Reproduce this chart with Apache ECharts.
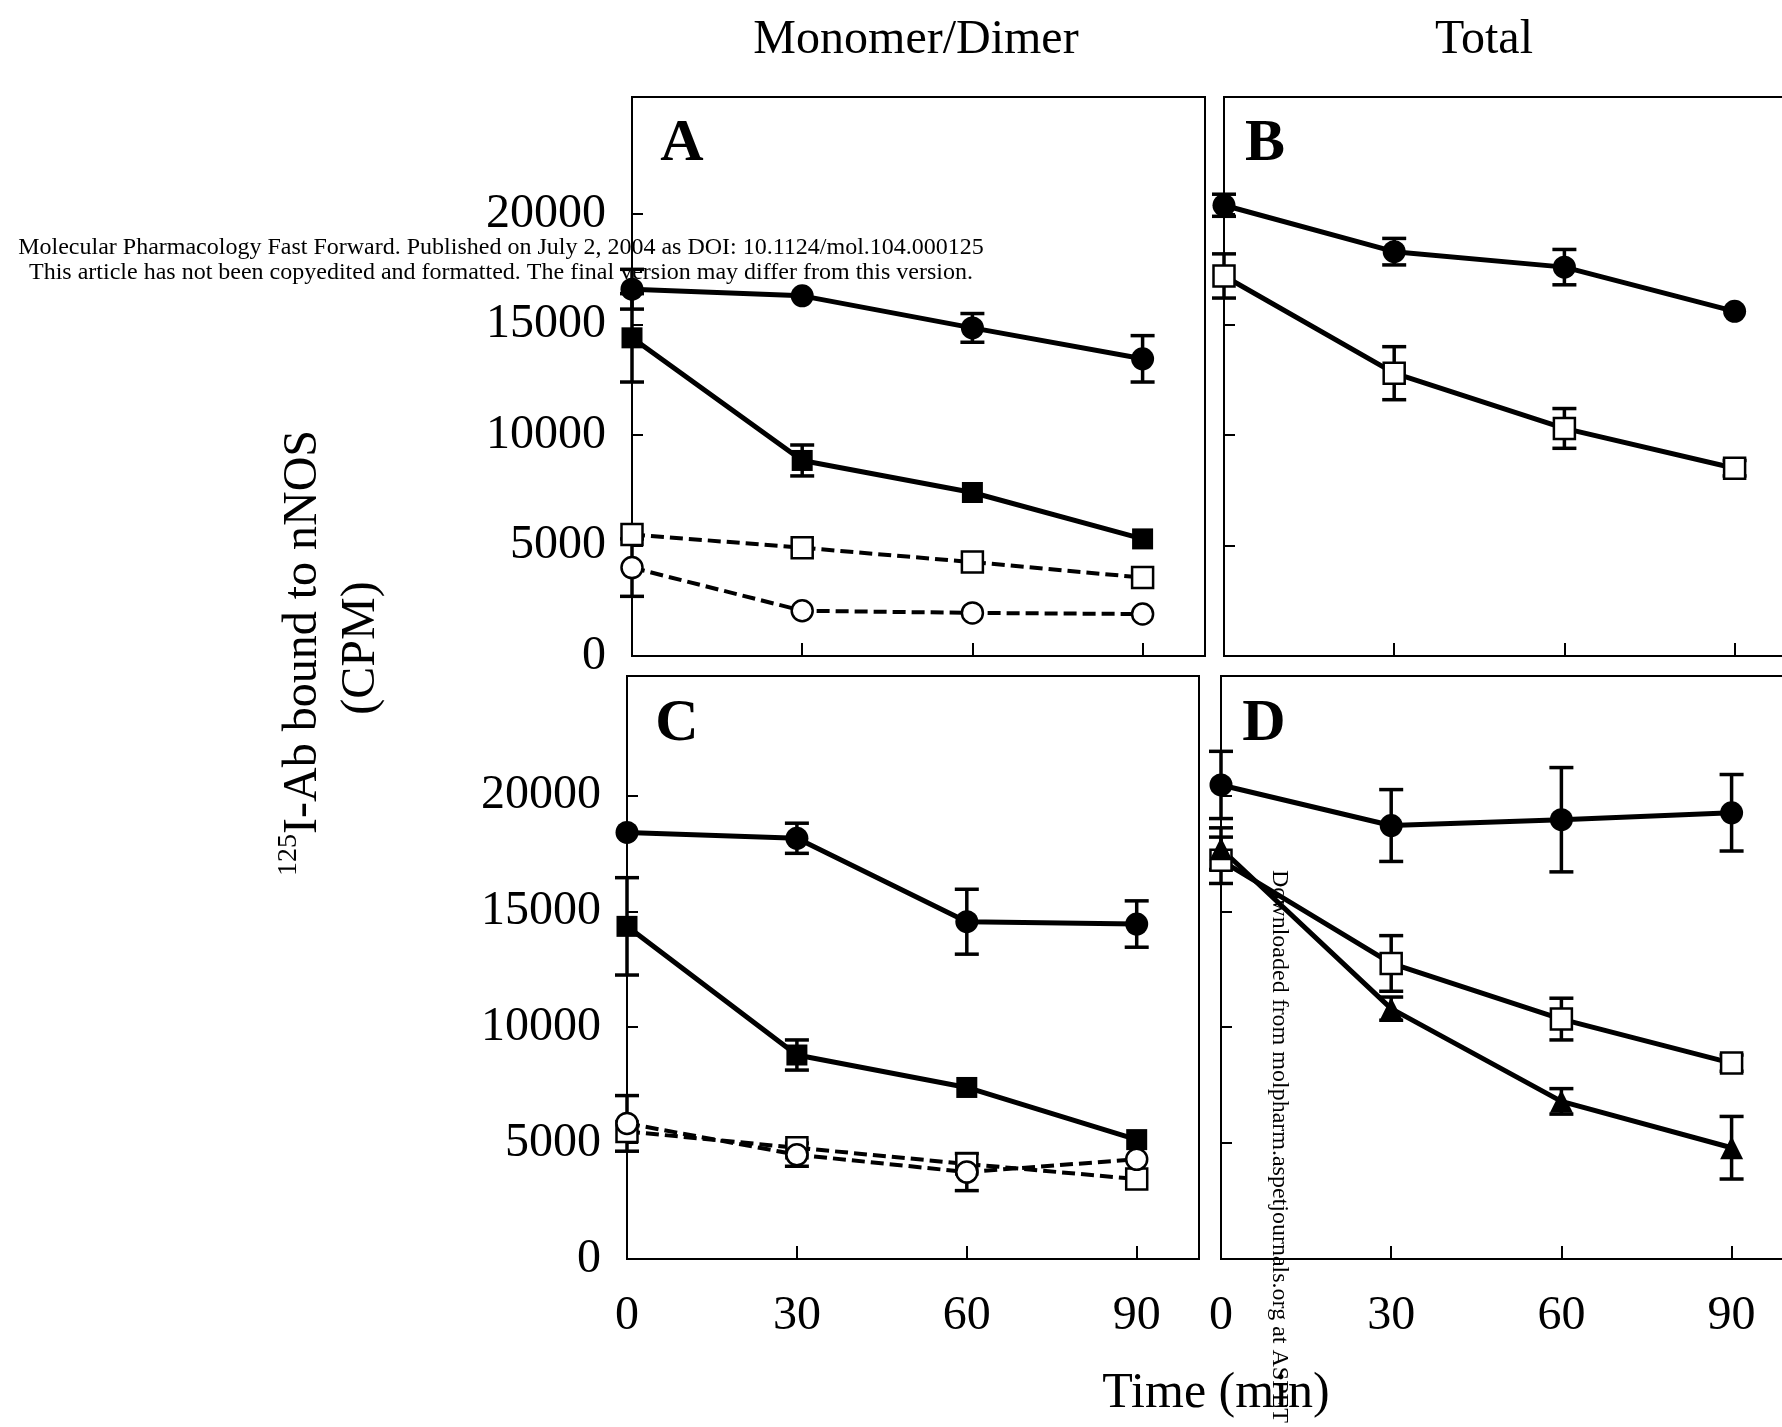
<!DOCTYPE html>
<html>
<head>
<meta charset="utf-8">
<title>125I-Ab bound to nNOS</title>
<script src="https://cdn.jsdelivr.net/npm/echarts@6/dist/echarts.min.js"></script>
<style>
html, body { margin: 0; padding: 0; background: #fff; overflow: hidden; }
/* wider than the window: the right edge of panels B and D runs off the page */
#chart { width: 1800px; height: 1427px; }
</style>
</head>
<body>
<div id="chart"></div>
<script>
// time points (min)
const times = [0, 30, 60, 90];
const xLabels = [0, 30, 60, 90];
const yLabels = [0, 5000, 10000, 15000, 20000];

// A - monomer/dimer
const aCircle = [16600, 16300, 14850, 13450];
const aCircleErr = [900, 0, 650, 1050];
const aSquare = [14400, 8850, 7400, 5300];
const aSquareErr = [2000, 700, 0, 0];
const aOpenSquare = [5500, 4900, 4250, 3550];
const aOpenSquareErr = [0, 0, 0, 0];
const aOpenCircle = [4000, 2050, 1950, 1900];
const aOpenCircleErr = [1300, 0, 0, 0];

// B - total
const bCircle = [20400, 18300, 17600, 15600];
const bCircleErr = [500, 600, 800, 0];
const bOpenSquare = [17200, 12800, 10300, 8500];
const bOpenSquareErr = [1000, 1200, 900, 350];

// C - monomer/dimer
const cCircle = [18400, 18150, 14550, 14450];
const cCircleErr = [0, 650, 1400, 1000];
const cSquare = [14350, 8800, 7400, 5150];
const cSquareErr = [2100, 650, 0, 0];
const cOpenSquare = [5500, 4800, 4100, 3450];
const cOpenSquareErr = [0, 0, 0, 0];
const cOpenCircle = [5850, 4500, 3750, 4300];
const cOpenCircleErr = [1200, 500, 800, 0];

// D - total
const dCircle = [20450, 18700, 18950, 19250];
const dCircleErr = [1450, 1550, 2250, 1650];
const dOpenSquare = [17200, 12750, 10350, 8450];
const dOpenSquareErr = [1000, 1200, 900, 350];
const dTriangle = [17700, 10800, 6800, 4800];
const dTriangleErr = [900, 500, 550, 1350];

const FONT = '"Liberation Serif", "Times New Roman", serif';

const grids = [
  { left: 632, top: 97, width: 573, height: 559 },   // A
  { left: 1224, top: 97, width: 573, height: 559 },  // B
  { left: 627, top: 676, width: 572, height: 583 },  // C
  { left: 1221, top: 676, width: 573, height: 583 }  // D
];
const yMax = [25300, 25300, 25150, 25150];

function lineSeries(g, values, symbol, filled, dashed) {
  let size = symbol === 'circle' ? 23 : symbol === 'triangle' ? 23 : 21;
  if (!filled) size = 21;
  return {
    type: 'line',
    xAxisIndex: g,
    yAxisIndex: g,
    data: times.map((t, i) => [t, values[i]]),
    symbol: symbol,
    symbolSize: size,
    showAllSymbol: true,
    clip: false,
    z: 3,
    itemStyle: {
      color: filled ? '#000' : '#fff',
      borderColor: '#000',
      borderWidth: filled ? 0 : 2.5
    },
    lineStyle: {
      color: '#000',
      width: dashed ? 4 : 5,
      type: dashed ? [13, 6] : 'solid'
    }
  };
}

function errSeries(g, values, errs) {
  const data = [];
  times.forEach((t, i) => {
    if (errs[i] > 0) data.push([t, values[i] - errs[i], values[i] + errs[i]]);
  });
  return {
    type: 'custom',
    xAxisIndex: g,
    yAxisIndex: g,
    z: 2,
    clip: false,
    encode: { x: 0, y: [1, 2] },
    data: data,
    renderItem: function (params, api) {
      const lo = api.coord([api.value(0), api.value(1)]);
      const hi = api.coord([api.value(0), api.value(2)]);
      const hw = 12;
      const st = { stroke: '#000', lineWidth: 3.5 };
      return {
        type: 'group',
        children: [
          { type: 'line', shape: { x1: lo[0], y1: lo[1], x2: hi[0], y2: hi[1] }, style: st },
          { type: 'line', shape: { x1: lo[0] - hw, y1: lo[1], x2: lo[0] + hw, y2: lo[1] }, style: st },
          { type: 'line', shape: { x1: hi[0] - hw, y1: hi[1], x2: hi[0] + hw, y2: hi[1] }, style: st }
        ]
      };
    }
  };
}

function panel(g, values, errs, symbol, filled, dashed) {
  return [errSeries(g, values, errs), lineSeries(g, values, symbol, filled, dashed)];
}

const series = [].concat(
  panel(0, aCircle, aCircleErr, 'circle', true, false),
  panel(0, aSquare, aSquareErr, 'rect', true, false),
  panel(0, aOpenSquare, aOpenSquareErr, 'rect', false, true),
  panel(0, aOpenCircle, aOpenCircleErr, 'circle', false, true),
  panel(1, bCircle, bCircleErr, 'circle', true, false),
  panel(1, bOpenSquare, bOpenSquareErr, 'rect', false, false),
  panel(2, cCircle, cCircleErr, 'circle', true, false),
  panel(2, cSquare, cSquareErr, 'rect', true, false),
  panel(2, cOpenSquare, cOpenSquareErr, 'rect', false, true),
  panel(2, cOpenCircle, cOpenCircleErr, 'circle', false, true),
  panel(3, dCircle, dCircleErr, 'circle', true, false),
  panel(3, dOpenSquare, dOpenSquareErr, 'rect', false, false),
  panel(3, dTriangle, dTriangleErr, 'triangle', true, false)
);

const xAxes = grids.map((g, i) => ({
  type: 'value',
  gridIndex: i,
  min: 0,
  max: 101,
  axisLine: { show: false },
  splitLine: { show: false },
  axisTick: { inside: true, length: 13, lineStyle: { color: '#000', width: 2 }, customValues: [30, 60, 90] },
  axisLabel: {
    show: i >= 2,
    customValues: xLabels,
    formatter: v => String(v),
    fontFamily: FONT,
    fontSize: 48,
    color: '#000',
    margin: 33
  }
}));

const yAxes = grids.map((g, i) => ({
  type: 'value',
  gridIndex: i,
  min: 0,
  max: yMax[i],
  axisLine: { show: false },
  splitLine: { show: false },
  axisTick: { inside: true, length: 11, lineStyle: { color: '#000', width: 2 }, customValues: [5000, 10000, 15000, 20000] },
  axisLabel: {
    show: i % 2 === 0,
    customValues: yLabels,
    formatter: v => String(v),
    fontFamily: FONT,
    fontSize: 48,
    color: '#000',
    margin: 26
  }
}));

function txt(x, y, text, size, extra) {
  return {
    type: 'text',
    x: x,
    y: y,
    silent: true,
    style: Object.assign({
      text: text,
      font: size + 'px ' + FONT,
      fill: '#000',
      textAlign: 'center',
      textVerticalAlign: 'middle'
    }, extra || {})
  };
}

const chart = echarts.init(document.getElementById('chart'));
chart.setOption({
  animation: false,
  backgroundColor: '#fff',
  grid: grids.map(g => Object.assign({ show: true, borderColor: '#000', borderWidth: 2, backgroundColor: 'transparent' }, g)),
  xAxis: xAxes,
  yAxis: yAxes,
  series: series,
  graphic: [
    txt(916, 40, 'Monomer/Dimer', 48),
    txt(1484, 40, 'Total', 48),
    txt(1216, 1394, 'Time (min)', 50),
    txt(682, 144, 'A', 60, { font: 'bold 60px ' + FONT }),
    txt(1265, 144, 'B', 60, { font: 'bold 60px ' + FONT }),
    txt(677, 724, 'C', 60, { font: 'bold 60px ' + FONT }),
    txt(1264, 724, 'D', 60, { font: 'bold 60px ' + FONT }),
    {
      type: 'text',
      x: 303,
      y: 653,
      rotation: Math.PI / 2,
      silent: true,
      style: {
        text: '{sup|125}{base|I-Ab bound to nNOS}',
        fill: '#000',
        textAlign: 'center',
        textVerticalAlign: 'middle',
        rich: {
          sup: { fontFamily: FONT, fontSize: 28, verticalAlign: 'top', lineHeight: 56, padding: [0, 0, 18, 0] },
          base: { fontFamily: FONT, fontSize: 48, lineHeight: 56 }
        }
      }
    },
    Object.assign(txt(361, 648, '(CPM)', 48), { rotation: Math.PI / 2 }),
    // page watermark
    txt(501, 248, 'Molecular Pharmacology Fast Forward. Published on July 2, 2004 as DOI: 10.1124/mol.104.000125', 24),
    txt(501, 273, 'This article has not been copyedited and formatted. The final version may differ from this version.', 24),
    Object.assign(txt(1279, 870, 'Downloaded from molpharm.aspetjournals.org at ASPET Journals on', 24, { textAlign: 'left' }), { rotation: -Math.PI / 2 })
  ]
});
</script>
</body>
</html>
